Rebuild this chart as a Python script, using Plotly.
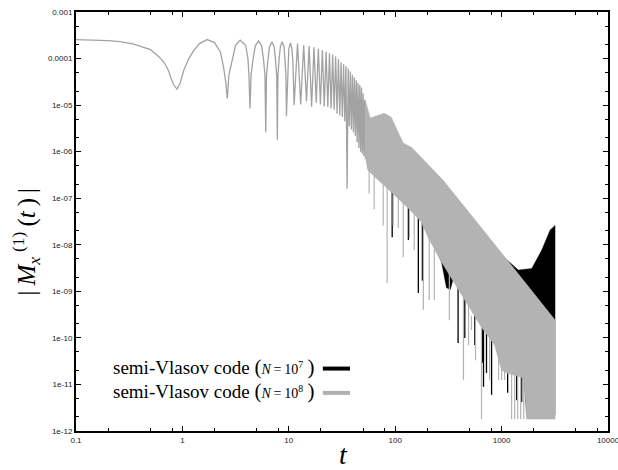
import plotly.graph_objects as go

# ---------------- data ----------------
# N=10^8 run, early resolved oscillations (time, |M|)
early_t = [0.1, 0.15, 0.2, 0.26, 0.35, 0.5, 0.6, 0.68, 0.74, 0.78, 0.83, 0.89, 0.95, 1.03, 1.15, 1.28, 1.45, 1.71,
           2.0, 2.28, 2.45, 2.56, 2.64,
           2.74, 2.94, 3.16, 3.49, 3.93, 4.13, 4.22, 4.32,
           4.42, 4.62, 4.85, 5.2, 5.55, 5.77, 5.97, 6.07,
           6.17, 6.37, 6.6, 6.94, 7.28, 7.5, 7.7, 7.8,
           7.9, 8.1, 8.33, 8.66, 9.0, 9.2, 9.4, 9.5,
           9.8, 10.0, 10.36, 10.7, 10.92, 11.22,
           12.08, 12.94, 13.8, 14.66, 15.52, 16.38, 17.24, 18.1, 18.96, 19.82, 20.68, 21.54, 22.4, 23.26,
           24.12, 24.98, 25.84, 26.7, 27.56, 28.42, 29.28, 30.14, 31.0, 31.86, 32.72, 33.58, 34.44, 35.3,
           36.16, 37.02, 37.88, 38.74, 39.6, 40.46, 41.32, 42.18, 43.04, 43.9, 44.76, 45.62, 46.48, 47.34,
           48.2, 49.06, 49.92, 50.78, 51.64, 52.5]
early_v = [2.55e-4, 2.5e-4, 2.42e-4, 2.3e-4, 2.05e-4, 1.56e-4, 1.1e-4, 8.0e-5, 5.5e-5, 3.8e-5, 2.7e-5, 2.2e-5, 2.9e-5, 5.6e-5, 1.0e-4, 1.5e-4, 2.1e-4, 2.56e-4,
           2.2e-4, 1.39e-4, 6.1e-5, 3.0e-5, 1.39e-5,
           4.5e-5, 1.0e-4, 1.93e-4, 2.47e-4, 1.93e-4, 1.0e-4, 4.5e-5, 8.5e-6,
           4.5e-5, 1.0e-4, 1.9e-4, 2.4e-4, 1.9e-4, 1.0e-4, 4.5e-5, 2.6e-6,
           4.2e-5, 9.5e-5, 1.8e-4, 2.3e-4, 1.8e-4, 9.5e-5, 4.2e-5, 1.8e-6,
           4.2e-5, 9.5e-5, 1.8e-4, 2.3e-4, 1.8e-4, 9.5e-5, 4.2e-5, 5.8e-6,
           9.0e-5, 1.6e-4, 2.2e-4, 1.6e-4, 9.0e-5, 1.0e-5,
           2.1e-4, 1.03e-5, 1.93e-4, 1.2e-5, 1.85e-4, 9.2e-6, 1.75e-4, 1.13e-5, 1.62e-4, 1.03e-5, 1.5e-4, 9.4e-6, 1.4e-4, 9.0e-6,
           1.3e-4, 8.5e-6, 1.2e-4, 8.0e-6, 1.1e-4, 6.5e-6, 9.8e-5, 6.0e-6, 8.3e-5, 5.5e-6, 7.5e-5, 4.5e-6, 6.8e-5, 1.6e-7,
           6.1e-5, 3.5e-6, 5.3e-5, 3.0e-6, 4.5e-5, 2.6e-6, 3.9e-5, 2.2e-6, 3.4e-5, 1.6e-6, 3.0e-5, 1.2e-6, 2.7e-5, 1.0e-6,
           2.4e-5, 9.0e-7, 1.8e-5, 8.0e-7, 1.3e-5, 7.0e-7]

# N=10^8 run, unresolved oscillation band: upper and lower envelopes
gray_up_t = [52.0, 53.3, 58.1, 66.2, 78.8, 91.7, 104, 119, 142, 282, 1000, 3180]
gray_up_v = [1.3e-5, 1.1e-5, 5.24e-6, 5.78e-6, 6.7e-6, 5.5e-6, 2.9e-6, 1.52e-6, 1.25e-6, 2.44e-7, 6.64e-9, 2.42e-10]
gray_lo_t = [52.0, 53.3, 55.3, 73.8, 98, 133, 176, 205, 272, 393, 647, 859, 1000, 1114, 1614, 1722, 3180]
gray_lo_v = [1.0e-6, 6.5e-7, 4.0e-7, 2.1e-7, 1.17e-7, 6.1e-8, 3.1e-8, 1.4e-8, 4.3e-9, 1.07e-9, 1.7e-10, 7.0e-11,
             2.05e-11, 1.77e-11, 1.38e-11, 1.8e-12, 1.8e-12]
# N=10^8 deep minima (spikes): time, top, bottom
gray_spk_t = [56.9, 63.4, 77.1, 84, 95.7, 107, 119, 136, 151, 184, 209, 233, 323, 438, 489, 521, 569, 647, 771, 937,
              1000, 1067, 1241, 1327, 1416, 1511, 1614]
gray_spk_top = [4e-7, 3e-7, 2e-7, 1.8e-7, 1.2e-7, 1e-7, 8e-8, 6e-8, 4.5e-8, 3e-8, 1.5e-8, 8e-9, 2.5e-9, 8e-10, 5e-10,
                3e-10, 2.5e-10, 1.7e-10, 1e-10, 4e-11, 2.5e-11, 2e-11, 2e-11, 2e-11, 2e-11, 2e-11, 2e-11]
gray_spk_bot = [1.27e-7, 5.8e-8, 2.6e-8, 1.5e-9, 2.6e-8, 2.3e-8, 5.4e-9, 1.4e-8, 7.7e-9, 4.0e-10, 6.5e-10, 6.5e-10,
                2.4e-10, 1.25e-11, 7.0e-11, 1.48e-10, 3.3e-11, 1.8e-12, 1.25e-11, 1.25e-11, 1.25e-11, 1.25e-11,
                1.8e-12, 1.8e-12, 1.8e-12, 1.8e-12, 1.8e-12]

# N=10^7 run: band envelopes
black_up_t = [52.0, 53.3, 58.1, 66.2, 78.8, 91.7, 104, 119, 142, 282, 1000, 1300, 1435, 1920, 2384, 2858, 3180]
black_up_v = [1.1e-5, 9.4e-6, 4.5e-6, 4.9e-6, 5.7e-6, 4.7e-6, 2.5e-6, 1.3e-6, 1.06e-6, 2.1e-7, 6.0e-9,
              3.4e-9, 2.86e-9, 3.1e-9, 7.7e-9, 2.07e-8, 2.6e-8]
black_lo_t = [52.0, 55.3, 73.8, 98, 133, 176, 205, 272, 303, 330, 352, 393, 647, 859, 1000, 1114, 1614, 1722, 3180]
black_lo_v = [1.2e-6, 4.8e-7, 2.5e-7, 1.4e-7, 7.3e-8, 3.7e-8, 1.7e-8, 4.3e-9, 1.2e-9, 1.1e-9, 1.9e-9, 1.3e-9,
              2.0e-10, 8.4e-11, 2.5e-11, 2.1e-11, 1.6e-11, 2.2e-12, 2.2e-12]
# N=10^7 deep minima (spikes)
black_spk_t = [93.7, 133, 165, 180, 390, 451, 560, 662, 676, 721, 805, 1140, 1387, 1545, 1683]
black_spk_top = [1.5e-7, 8e-8, 4e-8, 3e-8, 1.5e-9, 8e-10, 4e-10, 2e-10, 2e-10, 1.5e-10, 1e-10, 2e-11, 2e-11, 2e-11, 2e-11]
black_spk_bot = [1.46e-8, 1.26e-8, 9.2e-10, 1.7e-9, 7.8e-11, 1.0e-10, 7.0e-11, 2.9e-11, 8.9e-12, 1.77e-11, 6.0e-12,
                 6.6e-12, 4.6e-12, 4.2e-12, 4.2e-12]

# axis ticks
x_ticks = [0.1, 1, 10, 100, 1000, 10000]
x_ticktext = ["0.1", "1", "10", "100", "1000", "10000"]
x_minor = [m * d for d in [0.1, 1, 10, 100, 1000] for m in (2, 5, 8)]
y_ticks = [1e-3, 1e-4, 1e-5, 1e-6, 1e-7, 1e-8, 1e-9, 1e-10, 1e-11, 1e-12]
y_ticktext = ["0.001", "0.0001", "1e-05", "1e-06", "1e-07", "1e-08", "1e-09", "1e-10", "1e-11", "1e-12"]
y_minor = [m * d for d in [1e-12, 1e-11, 1e-10, 1e-9, 1e-8, 1e-7, 1e-6, 1e-5, 1e-4] for m in (2, 5)]

def legend_label(exp):
    return ("semi-Vlasov code <span style='font-size:21px'>(</span>"
            "<span style='font-size:14px'><i>N</i>\u2009=\u200910<sup>" + exp + "</sup></span>"
            "<span style='font-size:21px'>\u2009)</span>")

legend_labels = [legend_label("7"), legend_label("8")]
legend_colors = ["#000000", "#b0b0b0"]

GRAY_BAND = "#b3b3b3"
GRAY_LINE = "#a2a2a2"


def spikes(ts, tops, bots):
    xs, ys = [], []
    for t, a, b in zip(ts, tops, bots):
        xs += [t, t, None]
        ys += [a, b, None]
    return xs, ys


fig = go.Figure()

# N=10^7 band
fig.add_trace(go.Scatter(x=black_up_t + black_lo_t[::-1], y=black_up_v + black_lo_v[::-1],
                         fill="toself", fillcolor="#000000", line=dict(width=0.4, color="#000000"),
                         mode="lines", showlegend=False, hoverinfo="skip"))
bx, by = spikes(black_spk_t, black_spk_top, black_spk_bot)
fig.add_trace(go.Scatter(x=bx, y=by, mode="lines", line=dict(color="#000000", width=1.3),
                         showlegend=False, hoverinfo="skip"))

# N=10^8
fig.add_trace(go.Scatter(x=early_t, y=early_v, mode="lines", line=dict(color=GRAY_LINE, width=1.3),
                         showlegend=False, hoverinfo="skip"))
fig.add_trace(go.Scatter(x=gray_up_t + gray_lo_t[::-1], y=gray_up_v + gray_lo_v[::-1],
                         fill="toself", fillcolor=GRAY_BAND, line=dict(width=0.6, color=GRAY_BAND),
                         mode="lines", showlegend=False, hoverinfo="skip"))
gx, gy = spikes(gray_spk_t, gray_spk_top, gray_spk_bot)
fig.add_trace(go.Scatter(x=gx, y=gy, mode="lines", line=dict(color=GRAY_BAND, width=1.2),
                         showlegend=False, hoverinfo="skip"))

axis_common = dict(type="log", showgrid=False, zeroline=False, showline=True, linecolor="black", linewidth=2,
                   mirror="allticks", ticks="inside", ticklen=5, tickwidth=1, tickcolor="black", automargin=False,
                   ticklabeloverflow="allow",
                   tickfont=dict(family="Liberation Sans, Arial, sans-serif", size=8, color="#222"))

fig.update_xaxes(range=[-1, 4], tickmode="array", tickvals=x_ticks, ticktext=x_ticktext,
                 minor=dict(tickmode="array", tickvals=x_minor, ticks="inside", ticklen=3, tickcolor="black"),
                 **axis_common)
fig.update_yaxes(range=[-12, -3], tickmode="array", tickvals=y_ticks, ticktext=y_ticktext,
                 minor=dict(tickmode="array", tickvals=y_minor, ticks="inside", ticklen=3, tickcolor="black"),
                 **axis_common)

serif = "Liberation Serif, DejaVu Serif, serif"
annotations = [
    dict(xref="paper", yref="paper", x=-0.094, y=0.452, textangle=-90, showarrow=False,
         text="|\u2009<i>M</i><sub><i>x</i></sub>\u2009<sup>(1)</sup>\u2009(<i>t</i>\u2009)\u2009|",
         font=dict(family=serif, size=25, color="black"), xanchor="center", yanchor="middle"),
    dict(xref="paper", yref="paper", x=0.502, y=-0.057, showarrow=False, text="<i>t</i>",
         font=dict(family=serif, size=28, color="black"), xanchor="center", yanchor="middle"),
]
shapes = []
for i, (lab, col) in enumerate(zip(legend_labels, legend_colors)):
    yy = 0.153 - 0.058 * i
    annotations.append(dict(xref="paper", yref="paper", x=0.452, y=yy, showarrow=False, text=lab,
                            font=dict(family=serif, size=19, color="black"), xanchor="right", yanchor="middle"))
    shapes.append(dict(type="line", xref="paper", yref="paper", x0=0.464, x1=0.515, y0=yy - 0.004, y1=yy - 0.004,
                       line=dict(color=col, width=4)))

fig.update_layout(width=618, height=470, margin=dict(l=76, r=10, t=12, b=39, autoexpand=False),
                  paper_bgcolor="white", plot_bgcolor="white", showlegend=False,
                  annotations=annotations, shapes=shapes)

fig.write_html("out.html", config={"displayModeBar": False},
               post_script="document.body.style.margin='0px';document.body.style.padding='0px';")
